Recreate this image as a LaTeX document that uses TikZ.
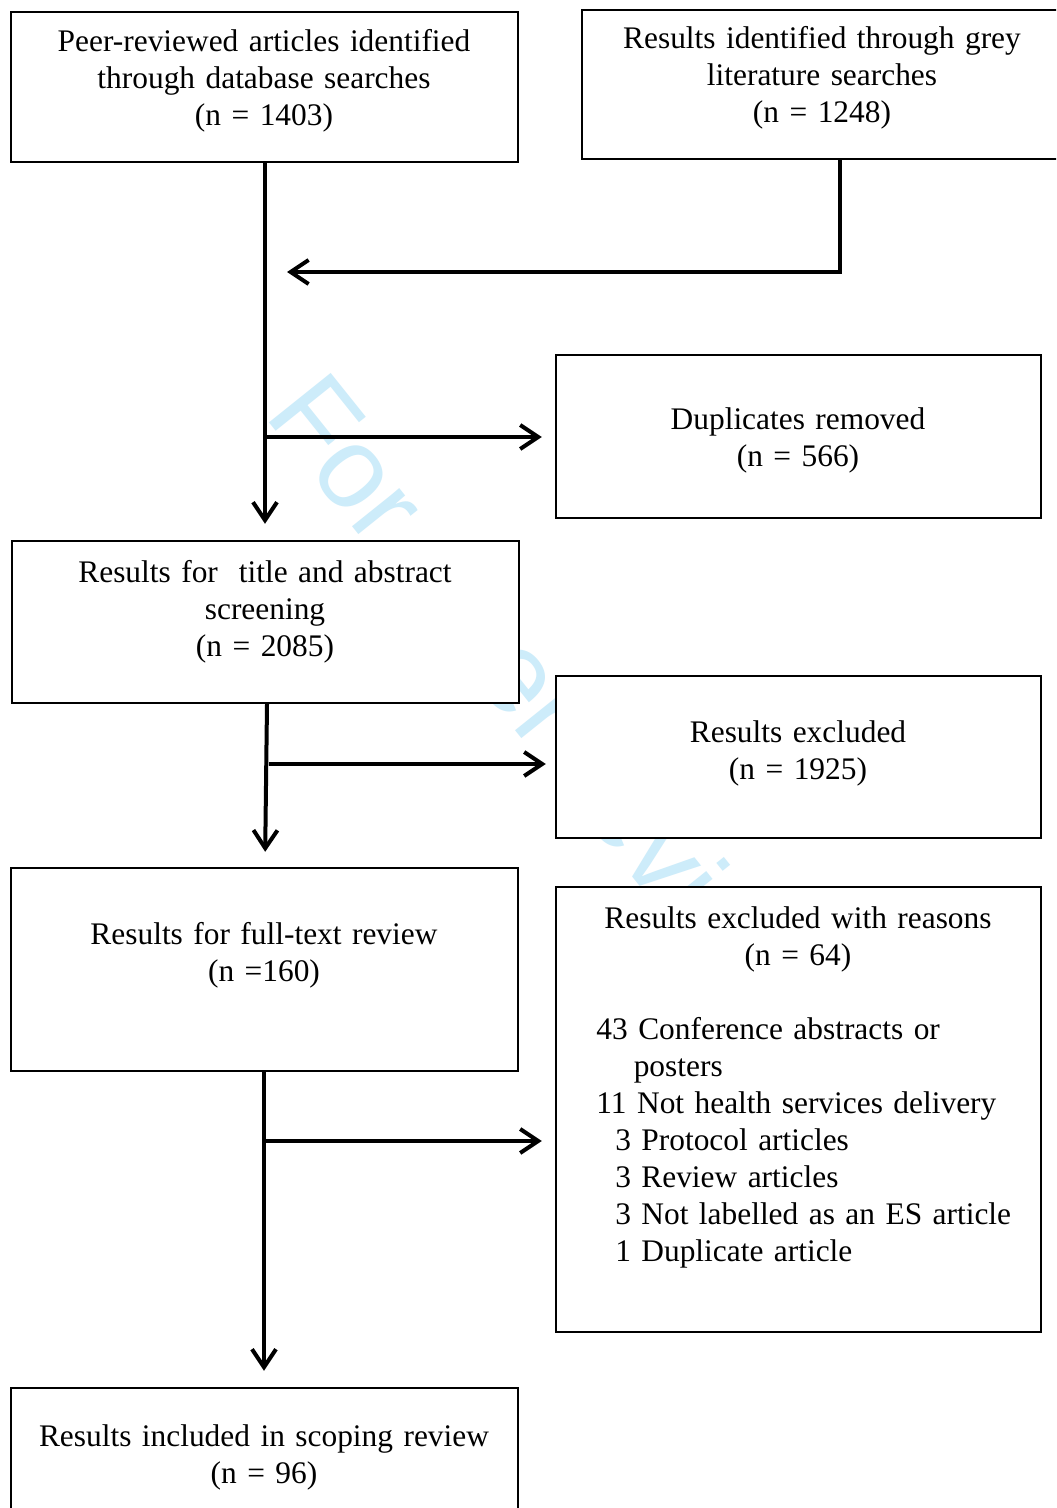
\documentclass[tikz,border=0pt]{standalone}
\usepackage{fontspec}
\setmainfont{Liberation Serif}
\newfontfamily\wmfont{Liberation Sans}
\usetikzlibrary{arrows.meta}
\definecolor{wmblue}{RGB}{205,236,250}
\begin{document}
\begin{tikzpicture}[x=0.5pt,y=-0.5pt,
  box/.style={draw=black, line width=1.2pt, fill=white, rectangle, inner sep=0pt, minimum width=#1},
  txt/.style={text width=240pt, align=center, inner sep=0pt, anchor=base, font=\fontsize{15.7}{18.5}\selectfont},
  lst/.style={text width=236pt, align=left, inner sep=0pt, anchor=base west, font=\fontsize{15.7}{18.5}\selectfont},
  arr/.style={draw=black, line width=2pt, -{Straight Barb[length=9pt,width=12pt]}},
  ln/.style={draw=black, line width=2pt}]
\clip (0,0) rectangle (1056,1508);
\fill[white] (0,0) rectangle (1056,1508);
% watermark
\node[anchor=base west, rotate=-51.3, inner sep=0pt, text=wmblue, font=\wmfont\fontsize{57.5}{60}\selectfont] (wm) at (263,415) {For peer review only};
% boxes
\node[box=253.5pt, minimum height=75pt] (A) at (264.5,87) {};
\node[box=240pt, minimum height=74.5pt] (B) at (822,84.5) {};
\node[box=242.5pt, minimum height=81.5pt] (Dup) at (798.5,436.5) {};
\node[box=253.5pt, minimum height=81pt] (C) at (265.5,622) {};
\node[box=242.5pt, minimum height=81pt] (Ex) at (798.5,757) {};
\node[box=253.5pt, minimum height=101.5pt] (D) at (264.5,969.5) {};
\node[box=242.5pt, minimum height=222.5pt] (F) at (798.5,1109.5) {};
\node[box=253.5pt, minimum height=65pt] (E) at (264.5,1453) {};
% texts
\node[txt] (tA) at (264,52) {Peer-reviewed articles identified\\through database searches\\(n = 1403)};
\node[txt] (tB) at (822,49) {Results identified through grey\\literature searches\\(n = 1248)};
\node[txt] (tDup) at (798,429) {Duplicates removed\\(n = 566)};
\node[txt] (tC) at (265,582) {Results for~ title and abstract\\screening\\(n = 2085)};
\node[txt] (tEx) at (798,742) {Results excluded\\(n = 1925)};
\node[txt] (tD) at (264,944) {Results for full-text review\\(n =160)};
\node[txt] (tF) at (798,928) {Results excluded with reasons\\(n = 64)};
\node[lst] (tL) at (596,1039) {43 Conference abstracts or\\
\hspace*{1.19em}posters\\
11 Not health services delivery\\
\hspace*{0.6em}3 Protocol articles\\
\hspace*{0.6em}3 Review articles\\
\hspace*{0.6em}3 Not labelled as an ES article\\
\hspace*{0.6em}1 Duplicate article};
\node[txt] (tE) at (264,1446) {Results included in scoping review\\(n = 96)};
% coordinates
\coordinate (g1) at (840,272);
\coordinate (j1) at (287,272);
\coordinate (b1) at (265,437);
\coordinate (b2) at (269,764);
\coordinate (b3) at (264,1141);
% connectors
\draw[arr, shorten >=8pt] (A.south -| b1) -- (C.north -| b1);
\draw[arr] (B.south -| g1) -- (g1) -- (j1);
\draw[arr, shorten >=6.5pt] (b1) -- (b1 -| Dup.west);
\draw[arr, shorten >=7.5pt] (C.south -| 267,0) -- (D.north -| 265,0);
\draw[arr, shorten >=4.5pt] (b2) -- (b2 -| Ex.west);
\draw[arr, shorten >=8pt] (D.south -| b3) -- (E.north -| b3);
\draw[arr, shorten >=6.5pt] (b3) -- (b3 -| F.west);
\end{tikzpicture}
\end{document}
